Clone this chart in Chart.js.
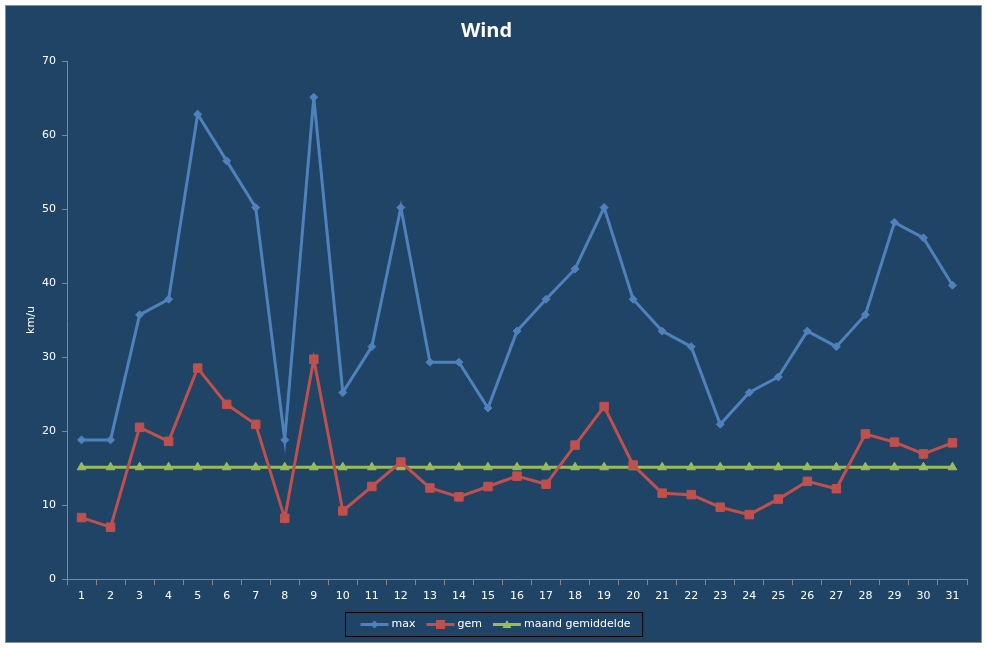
<!DOCTYPE html>
<html>
<head>
<meta charset="utf-8">
<script src="https://cdn.jsdelivr.net/npm/chart.js@4/dist/chart.umd.min.js"></script>
<style>
  body { margin: 0; background: #ffffff; }
  #kader {
    position: absolute; left: 5px; top: 5px;
    width: 975px; height: 636px;
    border: 1px solid #8c8c8c;
    background: #1f4465;
  }
</style>
</head>
<body>
<div id="kader"><canvas id="grafiekWind"></canvas></div>
<script>
// ======== DATA ========
const dagen = ["1","2","3","4","5","6","7","8","9","10","11","12","13","14","15","16",
               "17","18","19","20","21","22","23","24","25","26","27","28","29","30","31"];
const windMax = [18.8, 18.8, 35.7, 37.8, 62.8, 56.5, 50.2, 18.8, 65.1, 25.2, 31.4, 50.2, 29.3, 29.3, 23.1, 33.5,
                 37.8, 41.9, 50.2, 37.8, 33.5, 31.4, 20.9, 25.2, 27.3, 33.5, 31.4, 35.7, 48.2, 46.1, 39.7];
const windGem = [8.3, 7.0, 20.5, 18.6, 28.5, 23.6, 20.9, 8.2, 29.7, 9.2, 12.5, 15.8, 12.3, 11.1, 12.5, 13.9,
                 12.8, 18.1, 23.3, 15.4, 11.6, 11.4, 9.7, 8.7, 10.8, 13.2, 12.2, 19.6, 18.5, 16.9, 18.4];
const maandGem = [15.1, 15.1, 15.1, 15.1, 15.1, 15.1, 15.1, 15.1, 15.1, 15.1, 15.1, 15.1, 15.1, 15.1, 15.1, 15.1,
                  15.1, 15.1, 15.1, 15.1, 15.1, 15.1, 15.1, 15.1, 15.1, 15.1, 15.1, 15.1, 15.1, 15.1, 15.1];
const yTicks = [0, 10, 20, 30, 40, 50, 60, 70];

const blauw = "#4f81bd";
const rood = "#c0504d";
const groen = "#9bbb59";
const grijs = "#868686";
const lettertype = "'DejaVu Sans', Verdana, sans-serif";

// ======== LEGENDA MET KADER ========
function tekenMarker(ctx, vorm, x, y, kleur) {
    ctx.fillStyle = kleur;
    ctx.beginPath();
    if (vorm === "rectRot") {
        ctx.moveTo(x, y - 4); ctx.lineTo(x + 4, y); ctx.lineTo(x, y + 4); ctx.lineTo(x - 4, y);
    } else if (vorm === "rect") {
        ctx.rect(x - 4.5, y - 4.5, 9, 9);
    } else {
        ctx.moveTo(x, y - 4.5); ctx.lineTo(x + 4.5, y + 3.5); ctx.lineTo(x - 4.5, y + 3.5);
    }
    ctx.closePath();
    ctx.fill();
}

const legendaPlugin = {
    id: "legendaKader",
    afterDraw(chart) {
        const ctx = chart.ctx;
        const sets = chart.data.datasets;
        ctx.save();
        ctx.font = "11px " + lettertype;
        const lijn = 28, gat = 3, tussen = 11, links = 15, rechts = 12;
        let breedte = links + rechts;
        sets.forEach((ds, i) => {
            breedte += lijn + gat + ctx.measureText(ds.label).width + (i < sets.length - 1 ? tussen : 0);
        });
        const hoogte = 24;
        const x0 = Math.round(chart.width / 2 - breedte / 2) + 0.5;
        const y0 = Math.round(chart.chartArea.bottom) + 33.5;
        ctx.strokeStyle = "#000000";
        ctx.lineWidth = 1;
        ctx.strokeRect(x0, y0, breedte, hoogte);

        let x = x0 + links;
        const ym = y0 + hoogte / 2;
        sets.forEach(ds => {
            ctx.strokeStyle = ds.borderColor;
            ctx.lineWidth = 3;
            ctx.beginPath();
            ctx.moveTo(x, ym);
            ctx.lineTo(x + lijn, ym);
            ctx.stroke();
            tekenMarker(ctx, ds.pointStyle, x + lijn / 2, ym, ds.borderColor);
            x += lijn + gat;
            ctx.fillStyle = "#ffffff";
            ctx.textBaseline = "middle";
            ctx.textAlign = "left";
            ctx.fillText(ds.label, x, ym);
            x += ctx.measureText(ds.label).width + tussen;
        });
        ctx.restore();
    }
};

// ======== GRAFIEK WIND ========
const grafiekWind = document.getElementById("grafiekWind");

new Chart(grafiekWind, {
    type: "line",
    data: {
        labels: dagen,
        datasets: [{
            label: "max",
            data: windMax,
            borderColor: blauw,
            backgroundColor: blauw,
            borderWidth: 3,
            pointStyle: "rectRot",
            pointRadius: 4,
            pointBorderWidth: 1,
            pointBackgroundColor: blauw,
            pointBorderColor: blauw
        }, {
            label: "gem",
            data: windGem,
            borderColor: rood,
            backgroundColor: rood,
            borderWidth: 3,
            pointStyle: "rect",
            pointRadius: 6,
            pointBorderWidth: 1,
            pointBackgroundColor: rood,
            pointBorderColor: rood
        }, {
            label: "maand gemiddelde",
            data: maandGem,
            borderColor: groen,
            backgroundColor: groen,
            borderWidth: 3,
            pointStyle: "triangle",
            pointRadius: 5,
            pointBorderWidth: 1,
            pointBackgroundColor: groen,
            pointBorderColor: groen
        }]
    },
    options: {
        responsive: true,
        maintainAspectRatio: false,
        animation: false,
        layout: { padding: { top: 0, right: 14, left: 0, bottom: 0 } },
        plugins: {
            legend: { display: false },
            tooltip: { enabled: false },
            title: {
                display: true,
                text: "Wind",
                color: "#ffffff",
                font: { family: "'Open Sans', 'Liberation Sans', sans-serif", size: 20, weight: "bold" },
                padding: { top: 13, bottom: 18 }
            }
        },
        scales: {
            x: {
                offset: true,
                grid: { display: true, offset: true, drawOnChartArea: false, color: grijs, tickLength: 6, tickWidth: 1 },
                border: { color: grijs, width: 1 },
                ticks: { color: "#ffffff", font: { family: lettertype, size: 11 }, padding: 5, maxRotation: 0, autoSkip: false },
                afterFit(scale) { scale.height = 63; }
            },
            y: {
                min: 0,
                max: 70,
                afterBuildTicks(scale) { scale.ticks = yTicks.map(v => ({ value: v })); },
                grid: { display: true, drawOnChartArea: false, color: grijs, tickLength: 5 },
                border: { color: grijs, width: 1 },
                ticks: { color: "#ffffff", font: { family: lettertype, size: 11 }, padding: 6 },
                title: {
                    display: true,
                    text: "km/u",
                    color: "#ffffff",
                    font: { family: lettertype, size: 11 },
                    padding: { top: 19, bottom: 0 }
                },
                afterFit(scale) { scale.width = 61; }
            }
        }
    },
    plugins: [legendaPlugin]
});
</script>
</body>
</html>
